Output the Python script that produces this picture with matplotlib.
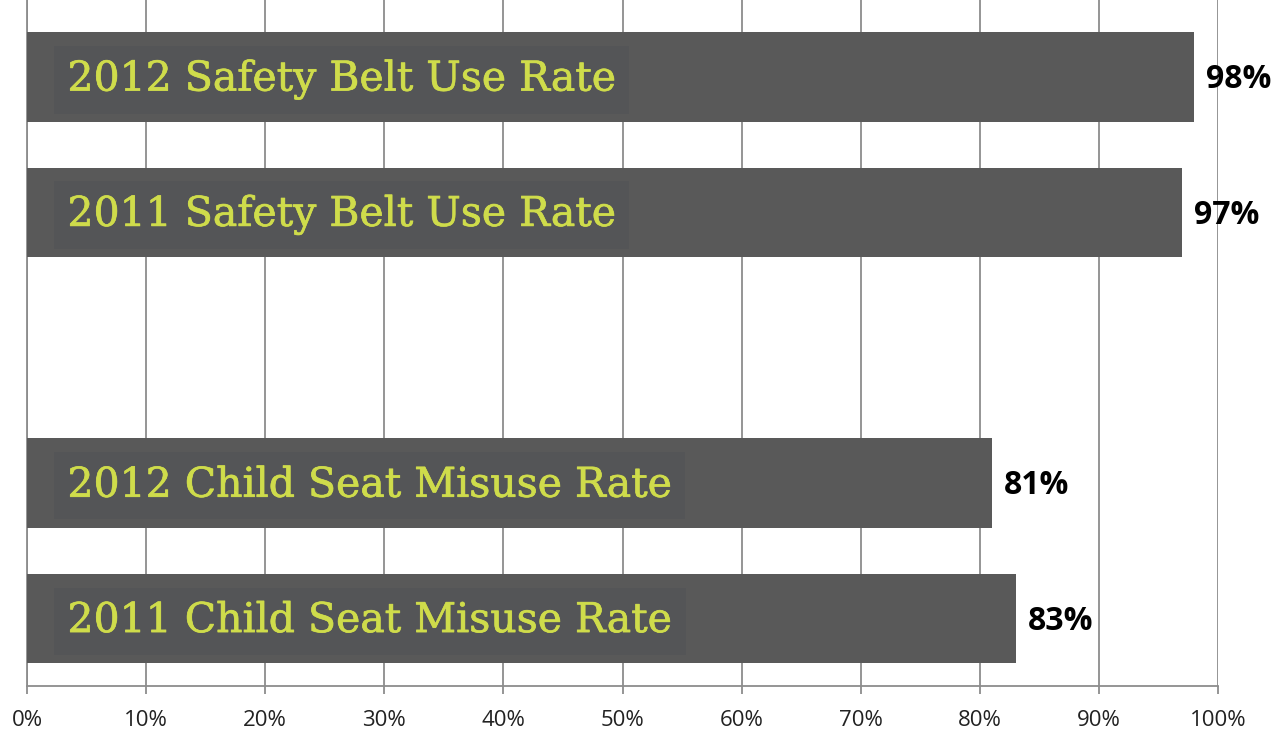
import matplotlib.pyplot as plt
import matplotlib.patheffects as pe
import numpy as np

labels = ['2012 Safety Belt Use Rate', '2011 Safety Belt Use Rate', '',
          '2012 Child Seat Misuse Rate', '2011 Child Seat Misuse Rate']
values = [98, 97, None, 81, 83]
ticks = list(range(0, 101, 10))

fig = plt.figure(figsize=(12.76, 7.32), dpi=100)
ax = fig.add_axes([27 / 1276, 1 - 686 / 732, (1218 - 27) / 1276, 686 / 732])

pos = np.arange(len(labels))[::-1]
for y, lab, v in zip(pos, labels, values):
    if v is None:
        continue
    ax.barh(y, v, height=0.66, color='#595959', zorder=3)
    ax.text(3.4, y - 0.02, lab, va='center', ha='left', family='DejaVu Serif',
            fontsize=29.5, color='#CFDC4B', zorder=4,
            path_effects=[pe.withStroke(linewidth=0.5, foreground='#CFDC4B')],
            bbox=dict(boxstyle='square,pad=0.33', fc='#545557', ec='none'))
    ax.text(v + 1, y - 0.02, f'{v}%', va='center', ha='left', family='Open Sans',
            fontweight='bold', fontsize=23, color='black', zorder=4)

ax.set_xlim(0, 100)
ax.set_ylim(-0.5, 4.57)
ax.set_xticks(ticks)
ax.set_xticklabels([f'{t}%' for t in ticks], fontsize=16, family='Open Sans',
                   color='#222222')
ax.set_yticks([])
ax.grid(axis='x', color='#8c8c8c', linewidth=1.3, zorder=0)
for s in ['top', 'right']:
    ax.spines[s].set_visible(False)
for s in ['left', 'bottom']:
    ax.spines[s].set_color('#8c8c8c')
    ax.spines[s].set_linewidth(1.3)
ax.tick_params(axis='x', length=6, width=1.3, color='#8c8c8c', pad=11)

fig.savefig('out.png', dpi=100)
